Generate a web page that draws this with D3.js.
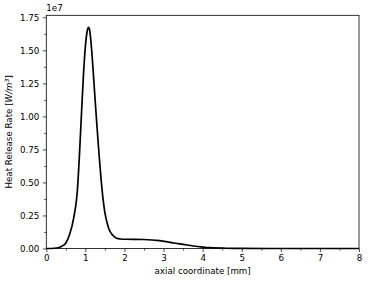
<!DOCTYPE html>
<html>
<head>
<meta charset="utf-8">
<script src="https://cdn.jsdelivr.net/npm/d3@7"></script>
<style>
  body { margin: 0; background: #fff; }
  text { font-family: "DejaVu Sans", sans-serif; fill: #000; }
</style>
</head>
<body>
<svg id="chart" width="368" height="282"></svg>
<script>
// axial coordinate [mm]
var xs = [0, 0.2, 0.3, 0.4, 0.5, 0.6, 0.7, 0.8, 0.85, 0.9, 0.95, 1.0, 1.05, 1.08, 1.1, 1.15, 1.2, 1.25, 1.3, 1.35, 1.4, 1.45, 1.5, 1.55, 1.6, 1.7, 1.8, 1.9, 2.0, 2.5, 2.9, 3.1, 3.3, 3.5, 3.76, 4.0, 4.2, 4.6, 5.0, 6.0, 7.0, 8.0];
// heat release rate [1e7 W/m3]
var hrr = [0, 0.002, 0.006, 0.017, 0.042, 0.11, 0.23, 0.46, 0.72, 1.02, 1.31, 1.53, 1.65, 1.673, 1.665, 1.54, 1.34, 1.12, 0.91, 0.71, 0.53, 0.38, 0.27, 0.20, 0.15, 0.10, 0.078, 0.072, 0.070, 0.068, 0.059, 0.05, 0.04, 0.031, 0.019, 0.011, 0.006, 0.002, 0.0005, 0, 0, 0];
var xTicks = [0, 1, 2, 3, 4, 5, 6, 7, 8];
var yTicks = [0, 0.25, 0.5, 0.75, 1.0, 1.25, 1.5, 1.75];

var svg = d3.select("#chart");
var mLeft = 46.3, mRight = 359, mTop = 15.3, mBottom = 248.5;
var fs = "8.7px";

var x = d3.scaleLinear().domain([0, 8]).range([mLeft, mRight]);
var y = d3.scaleLinear().domain([0, 1.765]).range([mBottom, mTop]);

// minor ticks
var xMinor = d3.range(0, 8.01, 0.5).filter(v => v % 1 !== 0);
var yMinor = d3.range(0, 1.76, 0.125).filter(v => Math.abs(v / 0.25 - Math.round(v / 0.25)) > 0.01);

svg.append("g").attr("transform", "translate(0," + mBottom + ")")
    .call(d3.axisBottom(x).tickValues(xMinor).tickSize(2).tickFormat(""))
    .call(g => g.select(".domain").remove());
svg.append("g").attr("transform", "translate(" + mLeft + ",0)")
    .call(d3.axisLeft(y).tickValues(yMinor).tickSize(2).tickFormat(""))
    .call(g => g.select(".domain").remove());

var xAxis = svg.append("g").attr("transform", "translate(0," + mBottom + ")")
    .call(d3.axisBottom(x).tickValues(xTicks).tickSize(3.5).tickPadding(2.5).tickFormat(d3.format("d")));
var yAxis = svg.append("g").attr("transform", "translate(" + mLeft + ",0)")
    .call(d3.axisLeft(y).tickValues(yTicks).tickSize(3.5).tickPadding(3.5).tickFormat(d3.format(".2f")));
[xAxis, yAxis].forEach(g => {
    g.select(".domain").remove();
    g.selectAll("text").style("font-size", fs).style("font-family", "DejaVu Sans");
});
svg.selectAll(".tick line").attr("stroke", "#000").attr("stroke-width", 0.7);

// frame
svg.append("rect")
    .attr("x", mLeft).attr("y", mTop)
    .attr("width", mRight - mLeft).attr("height", mBottom - mTop)
    .attr("fill", "none").attr("stroke", "#000").attr("stroke-width", 0.8);

// curve
var pts = xs.map((v, i) => [v, hrr[i]]);
var line = d3.line().x(d => x(d[0])).y(d => y(d[1])).curve(d3.curveMonotoneX);
svg.append("path")
    .attr("d", line(pts))
    .attr("fill", "none").attr("stroke", "#000").attr("stroke-width", 1.7);

// offset label
svg.append("text").attr("x", mLeft).attr("y", 11).style("font-size", fs).text("1e7");

// axis labels
svg.append("text")
    .attr("x", (mLeft + mRight) / 2).attr("y", 274)
    .attr("text-anchor", "middle").style("font-size", fs)
    .text("axial coordinate [mm]");

var yl = svg.append("text")
    .attr("transform", "translate(12," + ((mTop + mBottom) / 2) + ") rotate(-90)")
    .attr("text-anchor", "middle").style("font-size", fs);
yl.append("tspan").text("Heat Release Rate [");
yl.append("tspan").style("font-style", "italic").text("W/m");
yl.append("tspan").attr("dy", -3.5).style("font-size", "6px").style("font-style", "italic").text("3");
yl.append("tspan").attr("dy", 3.5).text("]");
</script>
</body>
</html>
